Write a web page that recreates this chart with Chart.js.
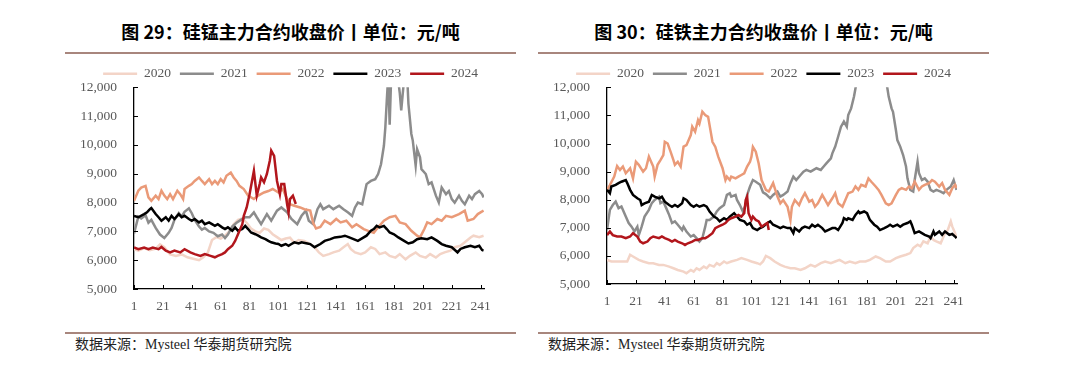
<!DOCTYPE html>
<html><head><meta charset="utf-8">
<script src="https://cdn.jsdelivr.net/npm/chart.js@4"></script>
<style>
html,body{margin:0;padding:0;background:#fff;}
body{width:1080px;height:379px;position:relative;overflow:hidden;}
.title{position:absolute;top:19px;line-height:24px;font-weight:bold;font-size:18px;font-family:"Noto Sans CJK SC",sans-serif;color:#000;text-align:center;white-space:nowrap;}
.rule{position:absolute;height:2px;background:#A8867D;}
.src{position:absolute;top:336px;line-height:18px;font-size:14px;font-family:"Liberation Serif","Noto Sans CJK SC",serif;color:#222;white-space:nowrap;}
canvas{position:absolute;}
</style></head><body>
<div class="title" style="left:65px;width:451px">图 29：硅锰主力合约收盘价丨单位：元/吨</div>
<div class="rule" style="left:65px;width:451px;top:52px"></div>
<canvas id="c1" width="451" height="262" style="left:65px;top:58px"></canvas>
<div class="rule" style="left:65px;width:451px;top:332px"></div>
<div class="src" style="left:75px">数据来源：Mysteel 华泰期货研究院</div>

<div class="title" style="left:538px;width:451px">图 30：硅铁主力合约收盘价丨单位：元/吨</div>
<div class="rule" style="left:538px;width:451px;top:52px"></div>
<canvas id="c2" width="451" height="257" style="left:538px;top:58px"></canvas>
<div class="rule" style="left:538px;width:451px;top:332px"></div>
<div class="src" style="left:548px">数据来源：Mysteel 华泰期货研究院</div>

<script>
// ---- data: [trading day, closing price] ----
const years = ['2020','2021','2022','2023','2024'];
const xTicks = [1,21,41,61,81,101,121,141,161,181,201,221,241];
const yTicks = [5000,6000,7000,8000,9000,10000,11000,12000];

// 硅锰 (SiMn)
const simn2020 = [[1,6380],[4,6330],[8,6420],[12,6350],[16,6400],[19,6550],[22,6450],[26,6200],[30,6150],[34,6200],[38,6100],[42,6050],[46,6000],[49,6100],[52,6250],[55,6700],[58,6800],[61,6750],[64,6850],[67,7000],[70,7250],[73,7400],[76,7450],[79,7300],[82,7100],[85,7000],[88,6950],[91,7100],[94,7050],[97,6900],[100,6800],[103,6700],[106,6750],[109,6780],[112,6600],[115,6700],[119,6670],[123,6560],[126,6450],[129,6270],[132,6150],[136,6210],[139,6270],[143,6330],[146,6450],[149,6560],[151,6390],[154,6270],[158,6210],[161,6270],[165,6450],[168,6390],[171,6210],[175,6270],[178,6150],[182,6090],[185,6210],[189,6030],[192,6150],[196,6270],[199,6150],[203,6090],[206,6210],[210,6090],[213,6210],[216,6270],[220,6330],[223,6450],[227,6500],[230,6620],[234,6790],[236,6850],[240,6800],[243,6850]];
const simn2021 = [[1,6930],[4,7510],[6,7450],[9,7560],[11,7300],[13,7400],[16,7120],[19,6890],[22,6770],[25,6950],[27,7120],[29,7400],[32,7630],[34,7510],[36,7680],[39,7800],[41,7630],[43,7400],[46,7170],[48,7060],[50,7120],[53,7000],[56,6950],[59,6830],[62,6890],[64,6770],[66,6890],[69,7170],[72,7300],[75,7400],[78,7490],[81,7490],[84,7660],[86,7490],[89,7250],[93,7600],[96,7370],[100,7720],[103,7830],[107,7660],[110,7430],[114,7250],[117,7540],[120,7720],[122,7370],[125,7250],[128,7770],[130,7940],[132,7770],[136,7890],[139,7770],[143,7890],[146,7770],[149,7660],[152,7540],[154,7830],[156,8000],[159,7940],[162,8640],[165,8750],[168,8810],[170,8990],[172,9330],[174,9970],[175,10610],[176,11540],[177,12400],[178,10700],[179,12300],[181,12800],[183,12600],[185,11800],[186,11200],[188,12300],[190,12500],[191,11420],[193,10380],[194,10150],[196,9280],[197,9850],[199,9570],[200,9160],[203,8990],[205,8640],[207,8700],[210,8240],[212,8000],[214,8520],[217,8290],[219,8400],[221,8120],[223,8000],[226,8240],[228,8060],[230,7940],[233,8240],[235,8120],[237,8290],[240,8400],[242,8290],[243,8180]];
const simn2022 = [[1,8060],[4,8410],[6,8520],[9,8580],[11,8180],[13,8060],[16,8240],[18,8120],[20,8410],[22,8240],[24,8120],[26,8290],[28,8120],[31,8410],[33,8290],[35,8120],[36,8470],[39,8580],[41,8640],[43,8750],[46,8870],[48,8750],[50,8640],[53,8810],[55,8640],[57,8750],[59,8640],[61,8810],[63,8700],[65,8930],[68,9040],[70,8870],[72,8750],[74,8580],[77,8470],[80,8240],[84,8120],[87,8240],[91,8350],[94,8400],[97,8470],[101,8350],[104,8470],[107,8120],[109,7940],[112,7890],[116,7830],[119,7770],[123,7720],[125,7300],[127,7100],[130,7150],[133,7370],[137,7250],[141,7430],[144,7310],[148,7370],[152,7140],[155,7250],[160,7080],[164,7000],[167,6950],[170,7140],[174,7370],[178,7490],[182,7540],[185,7310],[189,7250],[193,7020],[197,6850],[199,6790],[202,7080],[204,7310],[207,7250],[211,7430],[214,7370],[217,7540],[221,7490],[226,7600],[230,7720],[232,7370],[236,7430],[239,7600],[243,7720]];
const simn2023 = [[1,7540],[4,7490],[8,7600],[10,7660],[12,7770],[13,7810],[16,7600],[18,7490],[20,7370],[23,7490],[25,7370],[27,7540],[29,7430],[32,7600],[34,7490],[36,7540],[39,7430],[41,7370],[43,7430],[46,7310],[48,7370],[50,7250],[53,7310],[55,7250],[57,7190],[59,7250],[62,7140],[64,7080],[66,7140],[69,7020],[71,7140],[73,7020],[76,7080],[78,7190],[80,7080],[82,6960],[85,6900],[87,6850],[89,6790],[92,6730],[94,6670],[96,6620],[99,6580],[101,6560],[103,6500],[106,6560],[108,6500],[110,6560],[112,6620],[115,6580],[117,6620],[121,6580],[123,6560],[126,6450],[130,6560],[133,6670],[137,6730],[140,6790],[144,6810],[147,6850],[150,6790],[153,6730],[156,6670],[160,6790],[162,6850],[165,7020],[167,7080],[169,7190],[171,7140],[174,7190],[176,7080],[178,6960],[181,6900],[184,6790],[188,6670],[191,6580],[194,6620],[197,6730],[200,6760],[204,6730],[207,6790],[211,6670],[214,6560],[217,6500],[221,6450],[225,6270],[227,6390],[230,6450],[234,6500],[237,6450],[240,6500],[242,6350],[243,6330]];
const simn2024 = [[1,6440],[4,6380],[8,6440],[11,6380],[14,6440],[18,6380],[20,6460],[23,6330],[26,6270],[29,6330],[33,6270],[36,6380],[40,6270],[43,6210],[47,6150],[50,6210],[54,6150],[57,6100],[59,6150],[62,6210],[64,6270],[66,6380],[69,6500],[71,6670],[73,6900],[76,7250],[77,7540],[79,7830],[81,8290],[84,9100],[86,8240],[88,8640],[89,8870],[91,8700],[93,8990],[95,9450],[96,9800],[98,9620],[100,8750],[102,8290],[103,8640],[105,8640],[107,7940],[108,7660],[109,8120],[111,8240],[113,7950]];

// 硅铁 (FeSi)
const fesi2020 = [[1,5860],[4,5800],[8,5800],[11,5800],[15,5800],[17,6040],[19,5980],[23,5860],[26,5800],[30,5740],[33,5740],[37,5680],[40,5680],[44,5620],[47,5560],[50,5500],[54,5440],[56,5380],[59,5500],[61,5440],[63,5560],[65,5500],[68,5620],[70,5560],[72,5680],[75,5620],[77,5740],[79,5680],[82,5800],[84,5740],[87,5800],[91,5860],[94,5920],[98,5860],[101,5800],[105,5740],[107,5700],[109,5800],[111,6000],[114,5920],[117,5800],[121,5680],[124,5620],[128,5560],[131,5560],[135,5500],[138,5560],[142,5680],[145,5620],[149,5740],[152,5800],[156,5740],[159,5800],[162,5860],[166,5740],[169,5800],[173,5740],[176,5800],[180,5800],[183,5860],[187,5980],[190,5920],[194,5800],[197,5800],[201,5920],[204,5980],[208,6040],[211,6100],[213,6280],[216,6400],[218,6340],[220,6520],[223,6450],[225,6690],[227,6570],[229,6520],[232,6450],[234,6690],[235,6810],[237,6930],[239,7230],[240,7050],[242,6810],[243,6630]];
const fesi2021 = [[1,6920],[3,7640],[5,7810],[7,7930],[9,7700],[11,7760],[14,7400],[16,7170],[18,7040],[20,6870],[22,7040],[23,6740],[25,7040],[27,7400],[30,7640],[32,7880],[34,7990],[37,8110],[38,7880],[40,7930],[42,7700],[44,7460],[46,7170],[48,7230],[50,7110],[53,6920],[54,7040],[56,6870],[59,6690],[61,6740],[63,6630],[65,6510],[67,6630],[69,7040],[70,7280],[72,7280],[75,7400],[77,7580],[79,7700],[82,7810],[84,8170],[86,8230],[87,8110],[90,8170],[91,7990],[93,7810],[95,7580],[97,7810],[98,8170],[100,8470],[102,8700],[104,8640],[107,8530],[109,8260],[111,8200],[114,8050],[116,8170],[119,8290],[121,8110],[123,8170],[126,8290],[128,8590],[130,8820],[132,8700],[135,8880],[137,9000],[139,9060],[142,9000],[144,9060],[146,9120],[149,9060],[151,9180],[153,9300],[156,9470],[157,9650],[159,9890],[161,10240],[163,10600],[165,10780],[167,10600],[168,11010],[170,11250],[172,11670],[173,11960],[175,12500],[180,13000],[185,13200],[190,12800],[195,12000],[196,11670],[198,11250],[199,11130],[201,10480],[202,10120],[204,9890],[206,9590],[208,9180],[209,8760],[211,8350],[213,8290],[214,8700],[216,9350],[217,8940],[219,8700],[221,8760],[223,8640],[225,8350],[227,8290],[229,8350],[232,8290],[234,8230],[236,8350],[239,8470],[241,8700],[243,8350]];
const fesi2022 = [[1,8350],[3,8520],[6,8820],[8,9200],[10,9060],[12,9180],[14,8940],[17,9120],[19,8760],[21,9350],[23,9240],[26,9000],[28,9120],[30,9530],[31,9410],[33,9180],[34,8820],[36,9240],[38,9410],[40,9590],[41,10060],[43,10000],[45,9710],[47,9410],[48,9240],[50,9350],[52,9180],[54,9890],[56,9940],[59,10300],[60,10600],[62,10420],[64,10830],[65,10710],[67,11130],[69,11010],[71,10950],[73,10360],[74,10060],[76,9880],[78,9530],[81,9120],[83,8700],[84,8820],[86,8700],[87,8820],[90,8760],[92,8820],[94,8880],[96,8940],[98,9180],[100,9350],[101,9530],[102,9880],[104,9710],[106,9290],[108,8700],[111,8350],[113,8290],[116,8590],[119,8110],[121,7870],[123,7990],[126,7750],[128,7280],[129,7750],[131,7990],[134,7810],[136,8050],[138,8230],[141,7930],[143,7990],[145,7750],[147,7870],[150,8170],[152,7990],[154,7810],[157,8050],[159,8230],[161,7870],[164,7750],[166,7990],[168,8230],[171,8290],[173,8470],[175,8350],[177,8530],[180,8470],[182,8760],[184,8640],[187,8470],[189,8350],[191,8170],[194,7870],[196,7810],[198,7870],[201,8170],[203,8350],[205,8410],[208,8350],[210,8470],[212,8410],[214,8640],[217,8350],[219,8470],[221,8530],[224,8590],[226,8700],[228,8640],[231,8470],[233,8590],[235,8350],[238,8170],[240,8410],[242,8530],[243,8410]];
const fesi2023 = [[1,8350],[3,8230],[4,8470],[7,8530],[9,8590],[11,8640],[14,8700],[15,8590],[17,8350],[19,8170],[22,8050],[24,7990],[25,7810],[27,7870],[30,7930],[32,8170],[34,8110],[37,8050],[39,8110],[41,7930],[44,7810],[46,7750],[48,7810],[50,7750],[53,7870],[54,8050],[56,7990],[59,7810],[61,7750],[63,7810],[65,7750],[68,7810],[70,7750],[72,7580],[75,7400],[77,7340],[79,7230],[82,7340],[84,7280],[86,7400],[89,7520],[91,7400],[93,7280],[96,7230],[98,7110],[100,7170],[102,6990],[105,6920],[107,6990],[109,7040],[112,7170],[114,7230],[116,7110],[119,7040],[121,6990],[123,7040],[126,6990],[128,6990],[130,6810],[131,6990],[134,6870],[136,6990],[138,7040],[141,6990],[143,7110],[145,7040],[147,7110],[150,6990],[152,6870],[154,6920],[157,6990],[159,6990],[161,6920],[164,7170],[165,7340],[167,7280],[168,7340],[171,7280],[173,7460],[175,7580],[176,7520],[179,7580],[181,7520],[183,7280],[186,7110],[188,7040],[190,6920],[193,6990],[195,7040],[197,7110],[199,7040],[202,7110],[204,7040],[206,7110],[209,7170],[211,7230],[212,7110],[214,6810],[217,6870],[219,6810],[221,6750],[224,6690],[225,6630],[227,6870],[228,6750],[231,6870],[233,6750],[235,6870],[238,6750],[240,6780],[242,6690],[243,6630]];
const fesi2024 = [[1,6740],[3,6870],[5,6740],[8,6690],[11,6690],[14,6630],[17,6690],[19,6810],[22,6690],[24,6510],[26,6450],[29,6510],[31,6630],[33,6690],[37,6630],[39,6690],[41,6630],[44,6570],[46,6510],[48,6570],[50,6510],[53,6450],[55,6390],[57,6450],[60,6510],[62,6570],[64,6570],[67,6630],[69,6630],[71,6690],[74,6810],[76,6990],[78,7040],[81,7110],[83,7170],[85,7280],[87,7340],[90,7400],[92,7460],[94,7400],[96,7520],[97,7990],[98,8110],[99,7520],[101,7280],[102,7400],[104,7280],[106,7230],[108,7040],[110,7110],[112,7170],[113,6920]];

// ---- styling ----
const lineColors = ['#F3D4C7','#8C8C8C','#EA9A78','#000000','#B2161C'];
const drawOrder = [5,4,3,2,1];
const serif = '"Liberation Serif","Times New Roman",serif';
const tickGrey = '#595959';

const innerTicks = {
  id: 'innerTicks',
  afterDraw(chart) {
    const {ctx, chartArea: a, scales: {x, y}} = chart;
    ctx.save();
    ctx.strokeStyle = '#000';
    ctx.lineWidth = 1;
    ctx.beginPath();
    x.ticks.forEach(t => { const px = Math.round(x.getPixelForValue(t.value)) + 0.5; ctx.moveTo(px, a.bottom); ctx.lineTo(px, a.bottom - 4); });
    y.ticks.forEach(t => { const py = Math.round(y.getPixelForValue(t.value)) + 0.5; ctx.moveTo(a.left, py); ctx.lineTo(a.left + 4, py); });
    ctx.stroke();
    ctx.restore();
  }
};
const legendAdj = {
  id: 'legendAdj',
  beforeLayout(chart, args, opts) {
    const lg = chart.legend;
    if (lg && !lg._adj) {
      const f = lg.fit.bind(lg);
      lg.fit = function () { f(); this.height = opts.h; };
      lg._adj = true;
    }
  },
  afterLayout(chart, args, opts) {
    const lg = chart.legend;
    if (lg) { lg.left += opts.dx; lg.right += opts.dx; }
  }
};

function build(id, series) {
  const datasets = series.map((d, i) => ({
    label: years[i], data: d,
    borderColor: lineColors[i], backgroundColor: lineColors[i],
    borderWidth: 2.5, pointRadius: 0, tension: 0, order: drawOrder[i]
  }));
  return new Chart(document.getElementById(id), {
    type: 'line',
    data: { datasets },
    plugins: [innerTicks, legendAdj],
    options: {
      responsive: false, animation: false, devicePixelRatio: 1,
      layout: { padding: { left: 0, right: 32, top: 0, bottom: 0 } },
      plugins: {
        legend: {
          position: 'top', align: 'center',
          labels: {
            usePointStyle: true, pointStyle: 'line', pointStyleWidth: 34,
            padding: 9, color: tickGrey,
            font: { family: serif, size: 13.5 },
            sort: (a, b) => a.datasetIndex - b.datasetIndex
          }
        },
        legendAdj: { h: 29.3, dx: 16 },
        tooltip: { enabled: false }
      },
      scales: {
        x: {
          type: 'linear', min: 1, max: 243.3,
          afterBuildTicks: s => { s.ticks = xTicks.map(v => ({ value: v })); },
          afterFit: s => { s.height = 31; },
          grid: { display: false, drawTicks: false },
          border: { display: true, color: '#000', width: 1.3 },
          ticks: { color: tickGrey, padding: 9, maxRotation: 0, autoSkip: false, font: { family: serif, size: 13.5 }, callback: v => String(v) }
        },
        y: {
          type: 'linear', min: 5000, max: 12000,
          afterBuildTicks: s => { s.ticks = yTicks.map(v => ({ value: v })); },
          afterFit: s => { s.width = 69; },
          grid: { display: false, drawTicks: false },
          border: { display: true, color: '#000', width: 1.3 },
          ticks: { color: tickGrey, padding: 17, font: { family: serif, size: 13.5 }, callback: v => v.toLocaleString('en-US') }
        }
      }
    }
  });
}

build('c1', [simn2020, simn2021, simn2022, simn2023, simn2024]);
build('c2', [fesi2020, fesi2021, fesi2022, fesi2023, fesi2024]);
</script>
</body></html>
